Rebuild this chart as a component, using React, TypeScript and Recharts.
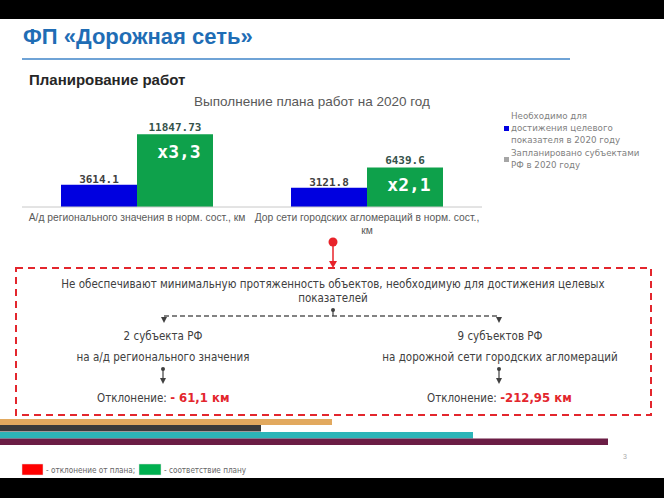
import React from "react";
import { BarChart, Bar, XAxis, YAxis, LabelList, Legend } from "recharts";

const categories = [
  "А/д регионального значения в норм. сост., км",
  "Дор сети городских агломераций в норм. сост.,\nкм",
];
const requiredValues = [3614.1, 3121.8];
const plannedValues = [11847.73, 6439.6];
const multipliers = ["x3,3", "x2,1"];
const seriesNames = [
  "Необходимо для\nдостижения целевого\nпоказателя в 2020 году",
  "Запланировано субъектами\nРФ в 2020 году",
];
const legendColors = ["#0000e0", "#a6a6a6"];
const subjectCounts = ["2 субъекта РФ", "9 субъектов РФ"];
const subjectScopes = ["на а/д регионального значения", "на дорожной сети городских агломераций"];
const deviations = ["- 61,1 км", "-212,95 км"];

const data = categories.map((c, i) => ({
  category: c,
  required: requiredValues[i],
  planned: plannedValues[i],
  mult: multipliers[i],
}));

const BOX_FONT = "'DejaVu Sans Condensed', 'DejaVu Sans', sans-serif";

const CategoryTick = (props: any) => {
  const { x, y, payload } = props;
  const lines = String(payload.value).split("\n");
  return (
    <text x={x} y={y} textAnchor="middle" fontSize={10.3} fill="#595959" fontFamily="'Liberation Sans', Arial, sans-serif">
      {lines.map((l, i) => (
        <tspan key={i} x={x} dy={i === 0 ? 14 : 13}>
          {l}
        </tspan>
      ))}
    </text>
  );
};

const MultLabel = (props: any) => {
  const { x, y, width, value } = props;
  return (
    <text
      x={Number(x) + Number(width) / 2 + 4}
      y={Number(y) + 24}
      textAnchor="middle"
      fill="#ffffff"
      fontSize={18}
      fontWeight="bold"
      fontFamily="'DejaVu Sans Mono', monospace"
    >
      {value}
    </text>
  );
};

const LegendContent = () => (
  <div style={{ fontFamily: "'DejaVu Sans', sans-serif", fontSize: 8.7, color: "#7f7f7f", lineHeight: "12px" }}>
    {seriesNames.map((n, i) => (
      <div key={i} style={{ display: "flex", alignItems: "center", marginTop: i === 0 ? 0 : 1 }}>
        <span style={{ width: 5, height: 5, background: legendColors[i], marginRight: 2, flexShrink: 0 }} />
        <span style={{ whiteSpace: "pre-line" }}>{n}</span>
      </div>
    ))}
  </div>
);

const Connector = ({ x, y1, y2 }: { x: number; y1: number; y2: number }) => (
  <g>
    <circle cx={x} cy={y1} r={2} fill="#404040" />
    <line x1={x} y1={y1} x2={x} y2={y2 - 5} stroke="#404040" strokeWidth={1.2} />
    <polygon points={`${x - 3},${y2 - 6} ${x + 3},${y2 - 6} ${x},${y2}`} fill="#404040" />
  </g>
);

export default function App() {
  return (
    <div style={{ position: "absolute", left: 0, top: 0, width: 664, height: 498, background: "#fff", overflow: "hidden" }}>
      <svg width={664} height={498} style={{ position: "absolute", left: 0, top: 0 }}>
        <rect x={0} y={0} width={664} height={19} fill="#000" />
        <rect x={0} y={478} width={664} height={20} fill="#000" />
        <text x={23} y={44} fontSize={22} fontWeight="bold" fill="#1f6db5" fontFamily="'Liberation Sans', Arial, sans-serif">
          ФП «Дорожная сеть»
        </text>
        <line x1={22} y1={59} x2={570} y2={59} stroke="#6fa3d6" strokeWidth={2} />
        <text x={29} y={85} fontSize={15} fontWeight="bold" fill="#262626" fontFamily="'Liberation Sans', Arial, sans-serif">
          Планирование работ
        </text>
        <text x={312} y={106} fontSize={13.5} textAnchor="middle" fill="#595959" fontFamily="'Liberation Sans', Arial, sans-serif">
          Выполнение плана работ на 2020 год
        </text>

        {/* red pointer */}
        <circle cx={333} cy={242} r={4.5} fill="#e8232a" />
        <line x1={333} y1={242} x2={333} y2={262} stroke="#e8232a" strokeWidth={1.5} />
        <polygon points="329,261 337,261 333,268" fill="#e8232a" />

        {/* dashed box */}
        <rect x={16} y={268} width={635} height={147} fill="none" stroke="#e3262d" strokeWidth={2} strokeDasharray="7 5" />

        <g fontFamily={BOX_FONT} fontSize={11.5} fill="#404040" textAnchor="middle">
          <text x={333} y={288}>Не обеспечивают минимальную протяженность объектов, необходимую для достижения целевых</text>
          <text x={333} y={302}>показателей</text>
          <text x={163} y={340}>{subjectCounts[0]}</text>
          <text x={500} y={340}>{subjectCounts[1]}</text>
          <text x={163} y={361}>{subjectScopes[0]}</text>
          <text x={500} y={361}>{subjectScopes[1]}</text>
        </g>
        <line x1={164} y1={316} x2={499} y2={316} stroke="#595959" strokeWidth={1.5} strokeDasharray="5 3" />
        <circle cx={333} cy={310} r={2} fill="#404040" />
        <line x1={333} y1={310} x2={333} y2={316} stroke="#404040" strokeWidth={1.2} />
        <polygon points="161,317 167,317 164,323" fill="#404040" />
        <polygon points="496,317 502,317 499,323" fill="#404040" />
        <Connector x={163} y1={369} y2={384} />
        <Connector x={499} y1={369} y2={384} />
        <g fontFamily={BOX_FONT} fontSize={11.5} fill="#404040">
          <text x={97} y={402}>
            Отклонение:{" "}
            <tspan fill="#e3262d" fontWeight="bold" fontSize={13}>
              {deviations[0]}
            </tspan>
          </text>
          <text x={427} y={402}>
            Отклонение:{" "}
            <tspan fill="#e3262d" fontWeight="bold" fontSize={13}>
              {deviations[1]}
            </tspan>
          </text>
        </g>

        {/* decorative stripes */}
        <rect x={0} y={419} width={332} height={6} fill="#e2a95f" />
        <rect x={0} y={425} width={261} height={6.5} fill="#3b3b3b" />
        <rect x={0} y={432} width={473} height={6.5} fill="#2cb5b8" />
        <rect x={0} y={438.5} width={608} height={6.5} fill="#6b1d45" />

        <text x={623} y={459} fontSize={7} fill="#aaaaaa" fontFamily="'Liberation Sans', Arial, sans-serif">3</text>

        {/* bottom legend */}
        <rect x={22} y={464} width={21} height={11} fill="#ff0000" stroke="#e0e0e0" strokeWidth={0.5} />
        <text x={46} y={472.5} fontSize={8.1} fill="#666" fontFamily="'DejaVu Sans Condensed', sans-serif">- отклонение от плана;</text>
        <rect x={139} y={464} width={22} height={11} fill="#00b050" stroke="#e0e0e0" strokeWidth={0.5} />
        <text x={164} y={472.5} fontSize={8.1} fill="#666" fontFamily="'DejaVu Sans Condensed', sans-serif">- соответствие плану</text>
      </svg>

      <div style={{ position: "absolute", left: 0, top: 0 }}>
        <BarChart
          width={664}
          height={498}
          data={data}
          margin={{ top: 121, right: 182, bottom: 261, left: 22 }}
          barGap={0}
          barSize={76}
        >
          <XAxis
            dataKey="category"
            height={30}
            tickLine={false}
            tickSize={0}
            tickMargin={0}
            axisLine={{ stroke: "#c8c8c8" }}
            tick={<CategoryTick />}
            interval={0}
          />
          <YAxis hide domain={[0, 14000]} />
          <Legend
            layout="horizontal"
            verticalAlign="middle"
            align="center"
            content={<LegendContent />}
            wrapperStyle={{ position: "absolute", left: 504, top: 110, width: 160 }}
          />
          <Bar dataKey="required" name={seriesNames[0]} fill="#0000e0" isAnimationActive={false}>
            <LabelList
              dataKey="required"
              position="top"
              offset={2}
              fill="#404040"
              fontSize={11}
              fontWeight="bold"
              fontFamily="'DejaVu Sans Mono', monospace"
            />
          </Bar>
          <Bar dataKey="planned" name={seriesNames[1]} fill="#0ea14b" isAnimationActive={false}>
            <LabelList
              dataKey="planned"
              position="top"
              offset={3}
              fill="#34524a"
              fontSize={11}
              fontWeight="bold"
              fontFamily="'DejaVu Sans Mono', monospace"
            />
            <LabelList dataKey="mult" content={<MultLabel />} />
          </Bar>
        </BarChart>
      </div>
    </div>
  );
}
